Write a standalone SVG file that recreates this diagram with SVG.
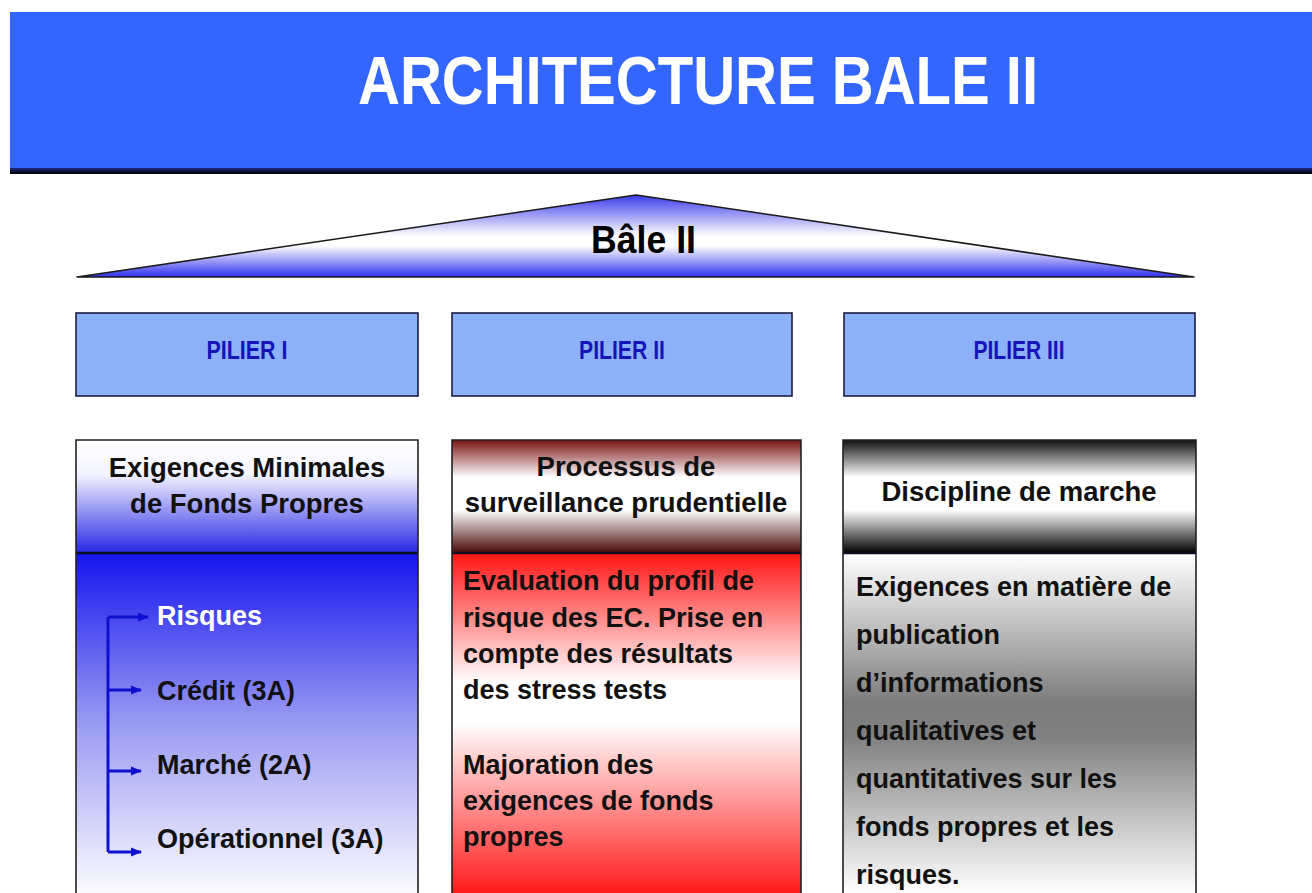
<svg xmlns="http://www.w3.org/2000/svg" width="1312" height="893" viewBox="0 0 1312 893">
  <style>
    .t { font-family: "Liberation Sans", Arial, sans-serif; font-weight: bold; }
    .title { fill: #ffffff; font-size: 68px; }
    .pil { fill: #8db1f8; stroke: #1c1c44; stroke-width: 1.6; }
    .pilt { fill: #1414b8; font-size: 25px; text-anchor: middle; }
    .hd { fill: #111111; font-size: 27.5px; text-anchor: middle; }
    .bd { fill: #111111; font-size: 27px; }
    .bd.lt { fill: #ffffff; }
    .frame { fill: none; stroke: #222222; stroke-width: 1.6; }
    .div { stroke: #0d0d20; stroke-width: 2.5; }
    .conn { fill: none; stroke: #1010d0; stroke-width: 3; }
  </style>
  <defs>
    <linearGradient id="gTri" x1="0" y1="195" x2="0" y2="277" gradientUnits="userSpaceOnUse">
      <stop offset="0" stop-color="#3c3cec"/>
      <stop offset="0.5" stop-color="#ffffff"/>
      <stop offset="0.62" stop-color="#ffffff"/>
      <stop offset="1" stop-color="#3030ee"/>
    </linearGradient>
    <linearGradient id="gBar" x1="0" y1="168" x2="0" y2="174" gradientUnits="userSpaceOnUse">
      <stop offset="0" stop-color="#1a2a80"/>
      <stop offset="1" stop-color="#000000"/>
    </linearGradient>
    <linearGradient id="gH1" x1="0" y1="440" x2="0" y2="553" gradientUnits="userSpaceOnUse">
      <stop offset="0" stop-color="#ffffff"/>
      <stop offset="0.3" stop-color="#f4f4ff"/>
      <stop offset="1" stop-color="#2828e4"/>
    </linearGradient>
    <linearGradient id="gB1" x1="0" y1="553" x2="0" y2="893" gradientUnits="userSpaceOnUse">
      <stop offset="0" stop-color="#1414ee"/>
      <stop offset="0.5" stop-color="#9a9af2"/>
      <stop offset="1" stop-color="#fbfbff"/>
    </linearGradient>
    <linearGradient id="gH2" x1="0" y1="440" x2="0" y2="553" gradientUnits="userSpaceOnUse">
      <stop offset="0" stop-color="#7a1414"/>
      <stop offset="0.33" stop-color="#ffffff"/>
      <stop offset="0.62" stop-color="#ffffff"/>
      <stop offset="1" stop-color="#4a0808"/>
    </linearGradient>
    <linearGradient id="gB2" x1="0" y1="553" x2="0" y2="893" gradientUnits="userSpaceOnUse">
      <stop offset="0" stop-color="#ff1414"/>
      <stop offset="0.38" stop-color="#ffffff"/>
      <stop offset="0.5" stop-color="#ffffff"/>
      <stop offset="1" stop-color="#ff1a1a"/>
    </linearGradient>
    <linearGradient id="gH3" x1="0" y1="440" x2="0" y2="553" gradientUnits="userSpaceOnUse">
      <stop offset="0" stop-color="#111111"/>
      <stop offset="0.33" stop-color="#ffffff"/>
      <stop offset="0.62" stop-color="#ffffff"/>
      <stop offset="1" stop-color="#000000"/>
    </linearGradient>
    <linearGradient id="gB3" x1="0" y1="553" x2="0" y2="893" gradientUnits="userSpaceOnUse">
      <stop offset="0" stop-color="#ffffff"/>
      <stop offset="0.44" stop-color="#7c7c7c"/>
      <stop offset="0.54" stop-color="#808080"/>
      <stop offset="1" stop-color="#ffffff"/>
    </linearGradient>
    <marker id="ah" markerWidth="11" markerHeight="10" refX="10" refY="5" orient="auto" markerUnits="userSpaceOnUse">
      <path d="M0,0.5 L11,5 L0,9.5 Z" fill="#1010d0"/>
    </marker>
  </defs>

  <rect width="1312" height="893" fill="#ffffff"/>

  <!-- title band -->
  <g id="header">
    <rect x="10" y="12" width="1302" height="156" fill="#3366ff"/>
    <rect x="10" y="168" width="1302" height="6" fill="url(#gBar)"/>
    <text class="t title" x="358" y="104" textLength="680" lengthAdjust="spacingAndGlyphs">ARCHITECTURE BALE II</text>
  </g>

  <!-- roof -->
  <g id="roof">
    <polygon points="636,195 1194,277 77,277" fill="url(#gTri)" stroke="#1a1a1a" stroke-width="1.6" stroke-linejoin="round"/>
    <text class="t" x="591" y="253" font-size="38" fill="#000000" textLength="105" lengthAdjust="spacingAndGlyphs">Bâle II</text>
  </g>

  <!-- pillar labels -->
  <g id="pilier1">
    <rect class="pil" x="76" y="313" width="342" height="83"/>
    <text class="t pilt" x="247" y="359" textLength="81" lengthAdjust="spacingAndGlyphs">PILIER I</text>
  </g>
  <g id="pilier2">
    <rect class="pil" x="452" y="313" width="340" height="83"/>
    <text class="t pilt" x="622" y="359" textLength="86" lengthAdjust="spacingAndGlyphs">PILIER II</text>
  </g>
  <g id="pilier3">
    <rect class="pil" x="844" y="313" width="351" height="83"/>
    <text class="t pilt" x="1019" y="359" textLength="91" lengthAdjust="spacingAndGlyphs">PILIER III</text>
  </g>

  <!-- pillar I : minimum capital requirements -->
  <g id="col1">
    <rect x="76" y="440" width="342" height="113" fill="url(#gH1)"/>
    <rect x="76" y="553" width="342" height="345" fill="url(#gB1)"/>
    <line class="div" x1="76" y1="553" x2="418" y2="553"/>
    <path class="frame" d="M76,898 V440 H418 V898"/>
    <text class="t hd" x="247" y="477">Exigences Minimales</text>
    <text class="t hd" x="247" y="513">de Fonds Propres</text>
    <text class="t bd lt" x="157" y="625">Risques</text>
    <text class="t bd" x="157" y="700">Crédit (3A)</text>
    <text class="t bd" x="157" y="774">Marché (2A)</text>
    <text class="t bd" x="157" y="848">Opérationnel (3A)</text>
  </g>

  <!-- pillar II : supervisory review -->
  <g id="col2">
    <rect x="452" y="440" width="349" height="113" fill="url(#gH2)"/>
    <rect x="452" y="553" width="349" height="345" fill="url(#gB2)"/>
    <line class="div" x1="452" y1="553" x2="801" y2="553"/>
    <path class="frame" d="M452,898 V440 H801 V898"/>
    <text class="t hd" x="626" y="476">Processus de</text>
    <text class="t hd" x="626" y="512">surveillance prudentielle</text>
    <text class="t bd" x="463" y="590">Evaluation du profil de</text>
    <text class="t bd" x="463" y="627">risque des EC. Prise en</text>
    <text class="t bd" x="463" y="663">compte des résultats</text>
    <text class="t bd" x="463" y="699">des stress tests</text>
    <text class="t bd" x="463" y="774">Majoration des</text>
    <text class="t bd" x="463" y="810">exigences de fonds</text>
    <text class="t bd" x="463" y="846">propres</text>
  </g>

  <!-- pillar III : market discipline -->
  <g id="col3">
    <rect x="843" y="440" width="353" height="113" fill="url(#gH3)"/>
    <rect x="843" y="553" width="353" height="345" fill="url(#gB3)"/>
    <line class="div" x1="843" y1="553" x2="1196" y2="553"/>
    <path class="frame" d="M843,898 V440 H1196 V898"/>
    <text class="t hd" x="1019" y="501">Discipline de marche</text>
    <text class="t bd" x="856" y="596">Exigences en matière de</text>
    <text class="t bd" x="856" y="644">publication</text>
    <text class="t bd" x="856" y="692">d’informations</text>
    <text class="t bd" x="856" y="740">qualitatives et</text>
    <text class="t bd" x="856" y="788">quantitatives sur les</text>
    <text class="t bd" x="856" y="836">fonds propres et les</text>
    <text class="t bd" x="856" y="884">risques.</text>
  </g>

  <!-- risk branch connectors -->
  <g id="connectors">
    <path class="conn" d="M108,617 V852"/>
    <path class="conn" d="M108,617 H148" marker-end="url(#ah)"/>
    <path class="conn" d="M108,690 H141" marker-end="url(#ah)"/>
    <path class="conn" d="M108,771 H141" marker-end="url(#ah)"/>
    <path class="conn" d="M108,852 H141" marker-end="url(#ah)"/>
  </g>
</svg>
